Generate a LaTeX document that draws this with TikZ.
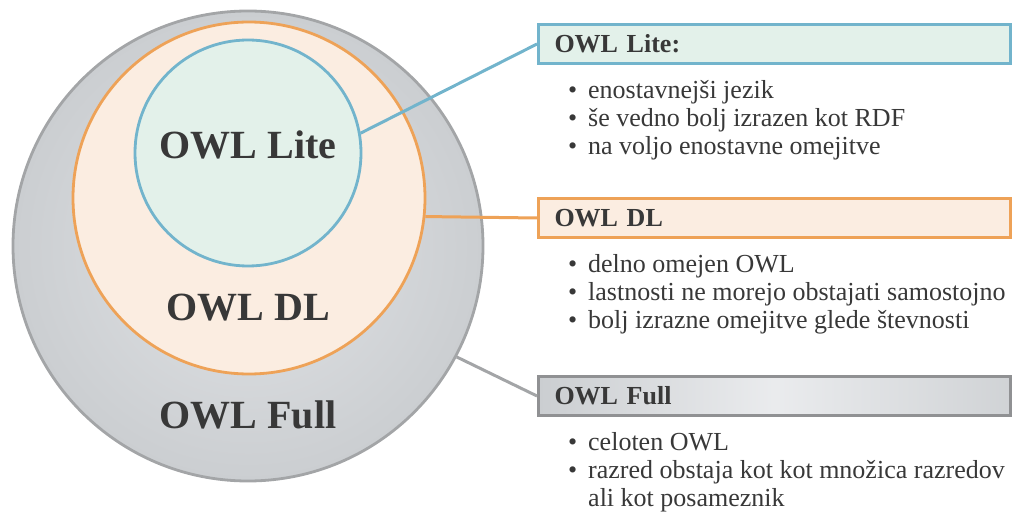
\documentclass[tikz,border=0pt]{standalone}
\usepackage{fontspec}
\setmainfont{Liberation Serif}
\usepackage{xcolor}
\usetikzlibrary{positioning}

\definecolor{txtgray}{HTML}{383838}
\definecolor{liteline}{HTML}{72B4CC}
\definecolor{litefill}{HTML}{E3F1EA}
\definecolor{dlline}{HTML}{EEA257}
\definecolor{dlfill}{HTML}{FBEDE1}
\definecolor{fullline}{HTML}{A3A5A7}
\definecolor{fullin}{HTML}{E1E3E6}
\definecolor{fullout}{HTML}{CBCED1}
\definecolor{fullbox}{HTML}{909193}

\newcommand{\bitem}[1]{\makebox[20pt][l]{\textbullet}#1}

\begin{document}
\begin{tikzpicture}[x=1pt,y=-1pt,
    every node/.style={text=txtgray,inner sep=0pt},
    ring/.style={circle,line width=2.8pt},
    biglabel/.style={font=\fontsize{40}{44}\selectfont\bfseries},
    titlebox/.style={rectangle,anchor=west,line width=3pt,minimum width=472pt,
      minimum height=39pt,text width=440pt,inner xsep=16pt,align=left,
      font=\fontsize{26}{28}\selectfont\bfseries},
    itemlist/.style={anchor=north west,align=left,font=\fontsize{26}{28}\selectfont},
    link/.style={line width=3pt}]
  \useasboundingbox (0,0) rectangle (1017,521);

  % the three circles
  \node[ring,draw=fullline,inner color=fullin,outer color=fullout,
    minimum size=470pt] (fullc) at (248,246) {};
  \node[ring,draw=dlline,fill=dlfill,minimum size=352pt] (dlc) at (249,198) {};
  \node[ring,draw=liteline,fill=litefill,minimum size=226pt] (litec) at (248,153) {};

  \node[biglabel] (litelabel) at (248,145) {OWL Lite};
  \node[biglabel] (dllabel) at (248,308) {OWL DL};
  \node[biglabel] (fulllabel) at (248,415) {OWL Full};

  % boxes on the right
  \node[titlebox,draw=liteline,fill=litefill] (litebox) at (537,44) {OWL Lite:};
  \node[titlebox,draw=dlline,fill=dlfill] (dlbox) at (537,218) {OWL DL};
  \node[titlebox,draw=fullbox,left color=fullout,right color=fullout!90!white,
    middle color=fullin!70!white] (fullbox) at (537,396) {OWL Full};

  \draw[link,liteline] (litec.10) -- (litebox.west);
  \draw[link,dlline] (dlc.-6) -- (dlbox.west);
  \draw[link,fullline] (fullc.-28) -- (fullbox.west);

  \node[itemlist] (litelist) at ([xshift=31pt,yshift=-15pt]litebox.south west)
    {\bitem{enostavnejši jezik}\\ \bitem{še vedno bolj izrazen kot RDF}\\
     \bitem{na voljo enostavne omejitve}};
  \node[itemlist] (dllist) at ([xshift=31pt,yshift=-15pt]dlbox.south west)
    {\bitem{delno omejen OWL}\\ \bitem{lastnosti ne morejo obstajati samostojno}\\
     \bitem{bolj izrazne omejitve glede števnosti}};
  \node[itemlist] (fulllist) at ([xshift=31pt,yshift=-15pt]fullbox.south west)
    {\bitem{celoten OWL}\\ \bitem{razred obstaja kot kot množica razredov}\\
     \makebox[20pt]{}ali kot posameznik};
\end{tikzpicture}
\end{document}
